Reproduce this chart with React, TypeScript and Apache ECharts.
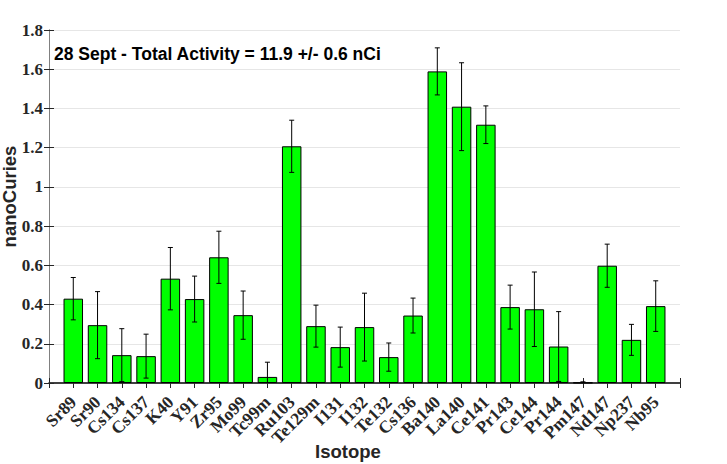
import React, { useEffect, useRef } from "react";
import * as echarts from "echarts";

const categories = [
  "Sr89", "Sr90", "Cs134", "Cs137", "K40", "Y91", "Zr95", "Mo99", "Tc99m",
  "Ru103", "Te129m", "I131", "I132", "Te132", "Cs136", "Ba140", "La140",
  "Ce141", "Pr143", "Ce144", "Pr144", "Pm147", "Nd147", "Np237", "Nb95",
];
const activity = [
  0.43, 0.295, 0.142, 0.137, 0.532, 0.428, 0.641, 0.346, 0.031, 1.207, 0.29,
  0.183, 0.285, 0.132, 0.344, 1.589, 1.409, 1.317, 0.387, 0.376, 0.186, 0.002,
  0.598, 0.22, 0.392,
];
const uncertainty = [
  0.108, 0.171, 0.135, 0.112, 0.159, 0.117, 0.133, 0.123, 0.075, 0.133, 0.107,
  0.102, 0.173, 0.072, 0.089, 0.12, 0.224, 0.096, 0.112, 0.19, 0.178, 0.004,
  0.11, 0.079, 0.129,
];
const yTicks = [0, 0.2, 0.4, 0.6, 0.8, 1, 1.2, 1.4, 1.6, 1.8];
const titleText = "28 Sept - Total Activity = 11.9 +/- 0.6 nCi";
const xName = "Isotope";
const yName = "nanoCuries";

const SERIF = "'Liberation Serif', 'Times New Roman', serif";
const SANS = "'Liberation Sans', Arial, Helvetica, sans-serif";

export default function App() {
  const ref = useRef<HTMLDivElement>(null);

  useEffect(() => {
    if (!ref.current) return;
    const chart = echarts.init(ref.current, undefined, { renderer: "svg" });

    const barData = categories.map((_, i) => [i + 1, activity[i]]);
    const errData = categories.map((_, i) => [
      i + 1,
      activity[i] - uncertainty[i],
      activity[i] + uncertainty[i],
    ]);

    const xLabel = (v: number) =>
      v >= 1 && v <= categories.length ? categories[v - 1] : "";

    chart.setOption({
      animation: false,
      backgroundColor: "#ffffff",
      title: {
        text: titleText,
        left: 54,
        top: 44,
        padding: 0,
        textStyle: {
          fontFamily: SANS,
          fontWeight: "bold",
          fontSize: 17.5,
          lineHeight: 20,
          color: "#000000",
        },
      },
      grid: {
        left: 49,
        right: 47,
        top: 30,
        bottom: 81,
        containLabel: false,
        outerBoundsMode: "none",
      },
      xAxis: [
        {
          type: "value",
          min: 0,
          max: categories.length + 1,
          interval: 1,
          position: "bottom",
          name: xName,
          nameLocation: "middle",
          nameGap: 68,
          nameMoveOverlap: false,
          nameTextStyle: {
            fontFamily: SANS,
            fontWeight: "bold",
            fontSize: 18.5,
            color: "#262626",
            verticalAlign: "middle",
            padding: [0, 33, 0, 0],
          },
          axisLine: { show: true, lineStyle: { color: "#000000", width: 1.5 } },
          axisTick: { show: true, inside: true, length: 5, lineStyle: { color: "#262626" } },
          axisLabel: {
            formatter: xLabel,
            rotate: 45,
            margin: 16,
            fontFamily: SERIF,
            fontWeight: "bold",
            fontSize: 17.5,
            color: "#262626",
            showMinLabel: true,
            showMaxLabel: true,
          },
          splitLine: { show: false },
        },
        {
          type: "value",
          min: 0,
          max: categories.length + 1,
          interval: 1,
          position: "top",
          axisLine: { show: true, lineStyle: { color: "#404040", width: 1 } },
          axisTick: { show: true, inside: true, length: 5, lineStyle: { color: "#262626" } },
          axisLabel: { show: false },
          splitLine: { show: false },
        },
      ],
      yAxis: [
        {
          type: "value",
          min: 0,
          max: yTicks[yTicks.length - 1],
          interval: 0.2,
          position: "left",
          name: yName,
          nameLocation: "middle",
          nameGap: 39.5,
          nameRotate: 90,
          nameMoveOverlap: false,
          nameTextStyle: {
            fontFamily: SANS,
            fontWeight: "bold",
            fontSize: 18.5,
            color: "#262626",
            verticalAlign: "middle",
            padding: [0, 0, 0, 20],
          },
          axisLine: { show: true, lineStyle: { color: "#808080", width: 1 } },
          axisTick: { show: true, inside: true, length: 5, lineStyle: { color: "#262626" } },
          axisLabel: {
            margin: 6,
            fontFamily: SERIF,
            fontWeight: "bold",
            fontSize: 17,
            color: "#262626",
            formatter: (v: number) => String(Math.round(v * 10) / 10),
          },
          splitLine: { show: true, lineStyle: { color: "#e6e6e6", width: 1 } },
        },
        {
          type: "value",
          min: 0,
          max: yTicks[yTicks.length - 1],
          interval: 0.2,
          position: "right",
          axisLine: { show: true, lineStyle: { color: "#808080", width: 1 } },
          axisTick: { show: true, inside: true, length: 5, lineStyle: { color: "#262626" } },
          axisLabel: { show: false },
          splitLine: { show: false },
        },
      ],
      series: [
        {
          type: "bar",
          xAxisIndex: 0,
          yAxisIndex: 0,
          data: barData,
          barWidth: 19.5,
          itemStyle: { color: "#00ff00", borderColor: "#000000", borderWidth: 1 },
          z: 2,
        },
        {
          type: "custom",
          xAxisIndex: 0,
          yAxisIndex: 0,
          data: errData,
          encode: { x: 0, y: [1, 2] },
          z: 3,
          renderItem: (params: any, api: any) => {
            const x = api.value(0);
            const lo = api.value(1);
            const hi = api.value(2);
            const top = api.coord([x, hi]);
            const bot = api.coord([x, Math.max(lo, 0)]);
            const w = 2.5;
            const st = { stroke: "#000000", lineWidth: 1 };
            const children: any[] = [
              { type: "line", shape: { x1: top[0], y1: top[1], x2: bot[0], y2: bot[1] }, style: st },
              { type: "line", shape: { x1: top[0] - w, y1: top[1], x2: top[0] + w, y2: top[1] }, style: st },
            ];
            if (lo >= 0) {
              children.push({
                type: "line",
                shape: { x1: bot[0] - w, y1: bot[1], x2: bot[0] + w, y2: bot[1] },
                style: st,
              });
            }
            return { type: "group", children };
          },
        },
      ],
    });

    return () => chart.dispose();
  }, []);

  return (
    <div
      ref={ref}
      style={{ position: "fixed", left: 0, top: 0, width: 727, height: 464, background: "#fff" }}
    />
  );
}
